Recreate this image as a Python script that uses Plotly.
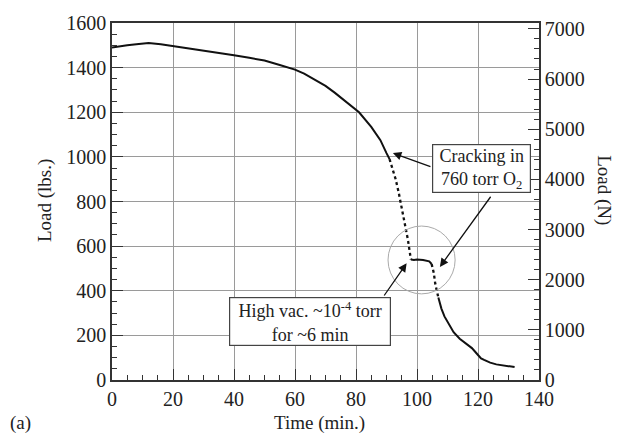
import plotly.graph_objects as go

# ---- data ----
time_min = [0, 2, 5, 8, 12, 16, 20, 25, 30, 35, 40, 45, 50, 55, 60, 63, 66, 70, 73, 77,
            81, 85, 88, 90, 91, 92, 93, 94, 95, 96, 97, 98, 99, 100, 102, 104, 104.8,
            105.5, 106, 107, 108, 109, 110, 112, 114, 116, 118, 120, 121, 122, 124,
            126, 128, 130, 132]
load_lbs = [1490, 1495, 1500, 1505, 1510, 1505, 1497, 1488, 1478, 1467, 1455, 1444,
            1432, 1412, 1391, 1373, 1351, 1318, 1288, 1246, 1200, 1134, 1075, 1017,
            990, 950, 900, 840, 775, 710, 630, 540, 538, 540, 538, 532, 520,
            480, 430, 370, 320, 285, 262, 214, 185, 162, 143, 112, 97, 90, 78,
            70, 65, 61, 58]
LBS_TO_N = 4.44822

x_ticks = [0, 20, 40, 60, 80, 100, 120, 140]
lbs_ticks = [0, 200, 400, 600, 800, 1000, 1200, 1400, 1600]
n_ticks = [0, 1000, 2000, 3000, 4000, 5000, 6000, 7000]

FONT = "Liberation Serif, Times New Roman, serif"
AX = "#333333"
GRID = "#9a9a9a"

fig = go.Figure()
# solid and dotted (fast-falling) parts of the same record
i91 = time_min.index(91)
i98 = time_min.index(98)
i1048 = time_min.index(104.8)
i107 = time_min.index(107)
segments = [(0, i91 + 1, "solid"), (i91, i98 + 1, "dot"), (i98, i1048 + 1, "solid"),
            (i1048, i107 + 1, "dot"), (i107, len(time_min), "solid")]
for a, b, dash in segments:
    fig.add_trace(go.Scatter(x=time_min[a:b], y=load_lbs[a:b], mode="lines",
                             line=dict(color="#111111", width=2.3 if dash == "dot" else 2,
                                       dash=dash),
                             showlegend=False, hoverinfo="skip"))
fig.add_trace(go.Scatter(x=time_min, y=[v * LBS_TO_N for v in load_lbs],
                         mode="lines", line=dict(width=0), opacity=0,
                         yaxis="y2", showlegend=False, hoverinfo="skip"))

common = dict(ticks="inside", showline=True, linecolor=AX, linewidth=1.5,
              tickcolor=AX, ticklen=11, tickwidth=1.2,
              tickfont=dict(family=FONT, size=20, color="#222222"),
              zeroline=False)

fig.update_layout(
    width=618, height=438,
    margin=dict(l=112, r=79, t=23, b=58),
    paper_bgcolor="white", plot_bgcolor="white",
    xaxis=dict(range=[0, 140], tickvals=x_ticks, showgrid=True,
               gridcolor=GRID, gridwidth=1, mirror=True,
               minor=dict(ticks="inside", dtick=5, ticklen=5, tickcolor=AX,
                          showgrid=False),
               **common),
    yaxis=dict(range=[0, 1600], tickvals=lbs_ticks, showgrid=True,
               gridcolor=GRID, gridwidth=1,
               minor=dict(ticks="inside", dtick=50, ticklen=5, tickcolor=AX,
                          showgrid=False),
               **common),
    yaxis2=dict(range=[0, 1600 * LBS_TO_N], tickvals=n_ticks, overlaying="y",
                side="right", showgrid=False,
                minor=dict(ticks="inside", dtick=200, ticklen=5, tickcolor=AX,
                           showgrid=False),
                **common),
)

# highlight circle
fig.add_shape(type="circle", xref="x", yref="y", x0=90.5, x1=112.5, y0=386, y1=690,
              line=dict(color="#aaaaaa", width=1))

afont = dict(family=FONT, size=18, color="#222222")
# boxes
fig.add_annotation(x=121.1, y=947, xref="x", yref="y",
                   text="Cracking in<br>760 torr O<sub>2</sub>", showarrow=False,
                   font=afont, bgcolor="white", bordercolor="#444444",
                   borderwidth=1.2, borderpad=2, width=93, height=43, align="center")
fig.add_annotation(x=65, y=262, xref="x", yref="y",
                   text="High vac. ~10<sup>-4</sup> torr<br>for ~6 min", showarrow=False,
                   font=afont, bgcolor="white", bordercolor="#444444",
                   borderwidth=1.2, borderpad=2, width=156, height=43, align="center")
# arrows
arrow_style = dict(text="", showarrow=True, arrowhead=2, arrowsize=1.3,
                   arrowwidth=1.3, arrowcolor="#111111", xref="x", yref="y",
                   axref="x", ayref="y")
fig.add_annotation(x=92.1, y=1017, ax=104.9, ay=954, **arrow_style)
fig.add_annotation(x=107.5, y=507, ax=124.5, ay=828, **arrow_style)
fig.add_annotation(x=96.6, y=523, ax=88.9, ay=372, **arrow_style)

# titles
tfont = dict(family=FONT, size=19, color="#222222")
fig.add_annotation(x=0.487, y=-0.12, xref="paper", yref="paper", text="Time (min.)",
                   showarrow=False, font=tfont, xanchor="center", yanchor="middle")
fig.add_annotation(x=-0.157, y=0.504, xref="paper", yref="paper", text="Load (lbs.)",
                   showarrow=False, font=tfont, textangle=-90,
                   xanchor="center", yanchor="middle")
fig.add_annotation(x=1.152, y=0.532, xref="paper", yref="paper", text="Load (N)",
                   showarrow=False, font=tfont, textangle=90,
                   xanchor="center", yanchor="middle")
fig.add_annotation(x=-0.2436, y=-0.12, xref="paper", yref="paper", text="(a)",
                   showarrow=False, font=tfont, xanchor="left", yanchor="middle")

fig.write_html("out.html")
